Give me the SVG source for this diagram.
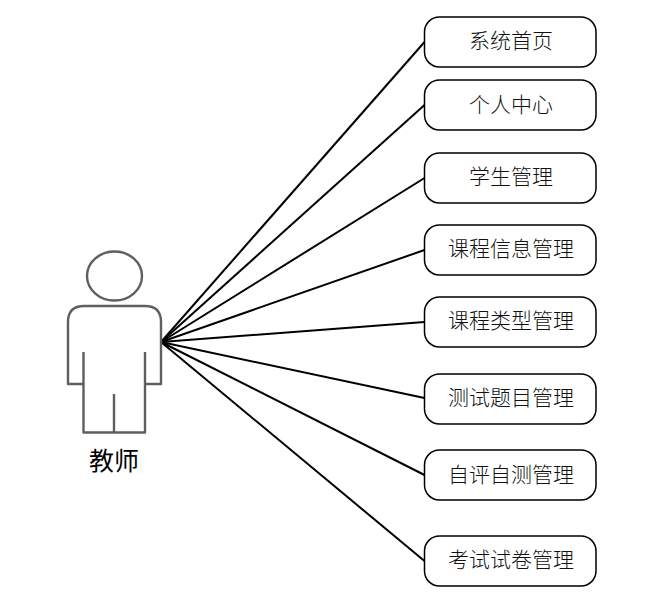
<svg xmlns="http://www.w3.org/2000/svg" width="650" height="608" viewBox="0 0 650 608">
<style>
.box{fill:#fff;stroke:#000;stroke-width:1.5}
.lbl{font-family:"Noto Sans CJK SC","Liberation Serif",serif;font-size:21px;font-weight:300;fill:#111;text-anchor:middle;dominant-baseline:central}
.actor{fill:none;stroke:#5f5f5f;stroke-width:2.4;stroke-linejoin:round}
.conn{stroke:#000;stroke-width:2;fill:none}
</style>
<rect width="650" height="608" fill="#fff"/>
<g id="connectors">
<line class="conn" x1="161" y1="342" x2="424.5" y2="42"/>
<line class="conn" x1="161" y1="342" x2="424.5" y2="105"/>
<line class="conn" x1="161" y1="342" x2="424.5" y2="178"/>
<line class="conn" x1="161" y1="342" x2="424.5" y2="250"/>
<line class="conn" x1="161" y1="342" x2="424.5" y2="322"/>
<line class="conn" x1="161" y1="342" x2="424.5" y2="398"/>
<line class="conn" x1="161" y1="342" x2="424.5" y2="475"/>
<line class="conn" x1="161" y1="342" x2="424.5" y2="561"/>
</g>
<g id="actor">
<ellipse class="actor" cx="114.5" cy="276" rx="27.5" ry="24.5"/>
<path class="actor" d="M83.5 384H68V322Q68 306 84 306H145Q161 306 161 322V384H145M83.5 352V432.5H145V352M114 394V432.5"/>
<text x="114" y="459" style="font-family:'Noto Sans CJK SC','Liberation Sans',sans-serif;font-size:25px;fill:#000;text-anchor:middle;dominant-baseline:central">教师</text>
</g>
<g id="n1"><rect class="box" x="424.5" y="17" width="171.5" height="50" rx="15"/><text class="lbl" x="511" y="39">系统首页</text></g>
<g id="n2"><rect class="box" x="424.5" y="80" width="171.5" height="50" rx="15"/><text class="lbl" x="511" y="103">个人中心</text></g>
<g id="n3"><rect class="box" x="424.5" y="153" width="171.5" height="50" rx="15"/><text class="lbl" x="511" y="175">学生管理</text></g>
<g id="n4"><rect class="box" x="424.5" y="225" width="171.5" height="50" rx="15"/><text class="lbl" x="511" y="247">课程信息管理</text></g>
<g id="n5"><rect class="box" x="424.5" y="297" width="171.5" height="50" rx="15"/><text class="lbl" x="511" y="319">课程类型管理</text></g>
<g id="n6"><rect class="box" x="424.5" y="374" width="171.5" height="50" rx="15"/><text class="lbl" x="511" y="396">测试题目管理</text></g>
<g id="n7"><rect class="box" x="424.5" y="450" width="171.5" height="50" rx="15"/><text class="lbl" x="511" y="473">自评自测管理</text></g>
<g id="n8"><rect class="box" x="424.5" y="536" width="171.5" height="50" rx="15"/><text class="lbl" x="511" y="558">考试试卷管理</text></g>
</svg>
